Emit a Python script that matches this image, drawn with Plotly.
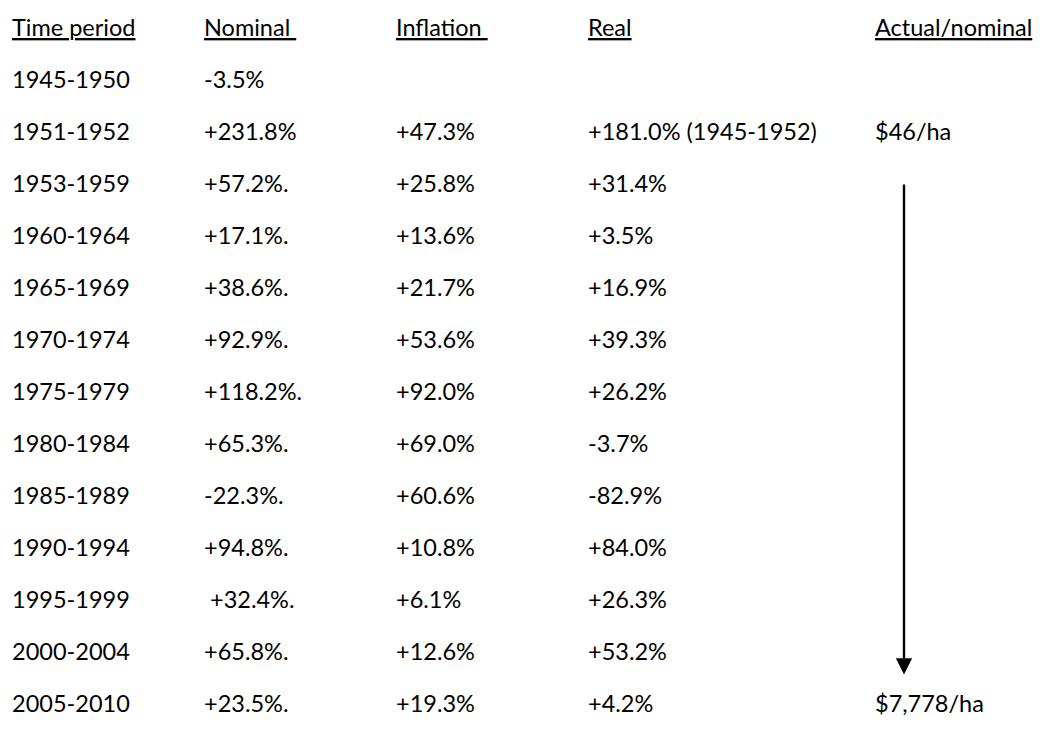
import plotly.graph_objects as go

headers = ["Time period", "Nominal\u00a0", "Inflation\u00a0", "Real", "Actual/nominal"]
periods = ["1945-1950", "1951-1952", "1953-1959", "1960-1964", "1965-1969", "1970-1974",
           "1975-1979", "1980-1984", "1985-1989", "1990-1994", "1995-1999", "2000-2004", "2005-2010"]
nominal = ["-3.5%", "+231.8%", "+57.2%.", "+17.1%.", "+38.6%.", "+92.9%.", "+118.2%.",
           "+65.3%.", "-22.3%.", "+94.8%.", "\u00a0+32.4%.", "+65.8%.", "+23.5%."]
inflation = ["", "+47.3%", "+25.8%", "+13.6%", "+21.7%", "+53.6%", "+92.0%",
             "+69.0%", "+60.6%", "+10.8%", "+6.1%", "+12.6%", "+19.3%"]
real = ["", "+181.0% (1945-1952)", "+31.4%", "+3.5%", "+16.9%", "+39.3%", "+26.2%",
        "-3.7%", "-82.9%", "+84.0%", "+26.3%", "+53.2%", "+4.2%"]
actual = ["", "$46/ha", "", "", "", "", "", "", "", "", "", "", "$7,778/ha"]

col_x = [10, 202, 394, 586, 873]
columns = [periods, nominal, inflation, real, actual]
FONT = dict(family="Lato, Open Sans, sans-serif", size=23.5, color="black")

OFF = 8  # page body margin
fig = go.Figure()
fig.add_trace(go.Scatter(x=[100, 900], y=[0, 13], mode="markers",
                         marker=dict(opacity=0), hoverinfo="skip", showlegend=False))

annotations = []
for c, h in enumerate(headers):
    annotations.append(dict(x=col_x[c], y=0, xref="x", yref="y", text="<u>" + h + "</u>",
                            showarrow=False, xanchor="left", yanchor="middle", font=FONT))
for c, col in enumerate(columns):
    for r, val in enumerate(col):
        if val:
            annotations.append(dict(x=col_x[c], y=r + 1, xref="x", yref="y", text=val,
                                    showarrow=False, xanchor="left", yanchor="middle", font=FONT))

annotations.append(dict(x=904, y=12.45, ax=904, ay=3.0, xref="x", yref="y", axref="x", ayref="y",
                        text="", showarrow=True, arrowhead=2, arrowsize=1.35, arrowwidth=2.4,
                        arrowcolor="black"))

fig.update_layout(
    width=1045, height=733,
    margin=dict(l=0, r=0, t=0, b=0),
    paper_bgcolor="white", plot_bgcolor="white",
    xaxis=dict(range=[OFF, OFF + 1045], visible=False, fixedrange=True),
    yaxis=dict(range=[(733 - 27 + OFF) / 52, -(27 - OFF) / 52], visible=False, fixedrange=True),
    annotations=annotations,
    showlegend=False,
)

fig.write_html("out.html")
